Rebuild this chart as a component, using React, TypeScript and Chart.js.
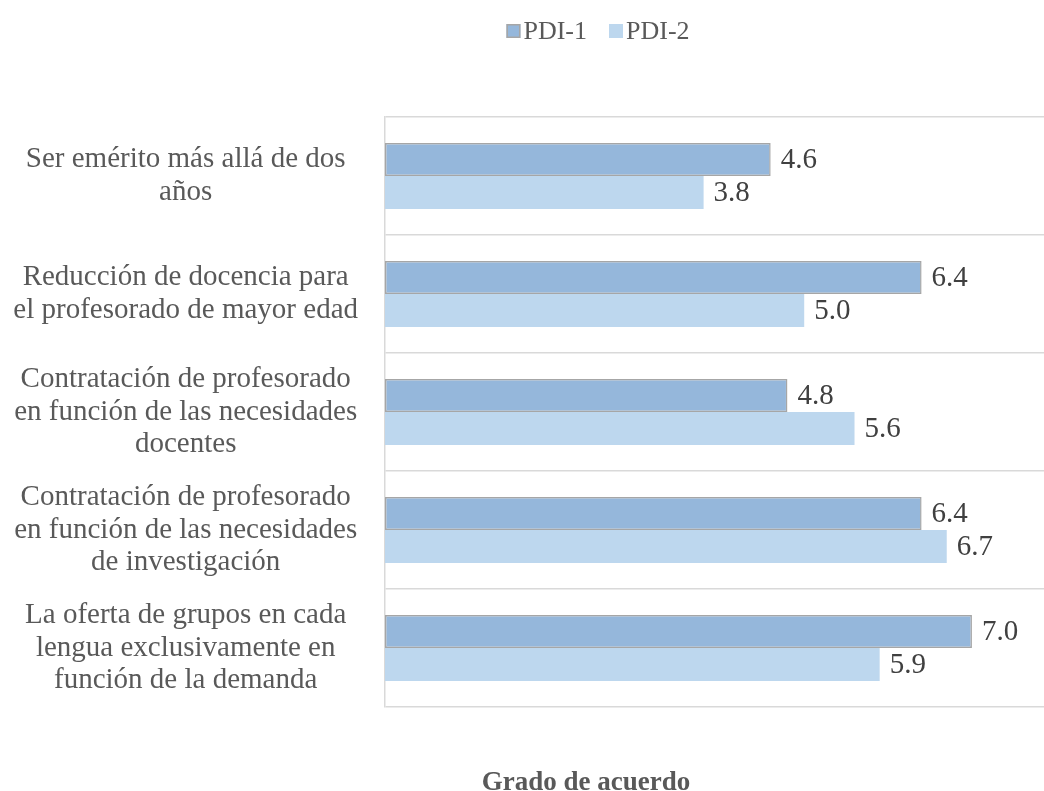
import React, { useEffect, useRef } from "react";
import { Chart, registerables } from "chart.js";

Chart.register(...registerables);

const categories: string[][] = [
  ["Ser emérito más allá de dos", "años"],
  ["Reducción de docencia para", "el profesorado de mayor edad"],
  ["Contratación de profesorado", "en función de las necesidades", "docentes"],
  ["Contratación de profesorado", "en función de las necesidades", "de investigación"],
  ["La oferta de grupos en cada", "lengua exclusivamente en", "función de la demanda"],
];
const pdi1: number[] = [4.6, 6.4, 4.8, 6.4, 7.0];
const pdi2: number[] = [3.8, 5.0, 5.6, 6.7, 5.9];
const seriesNames: string[] = ["PDI-1", "PDI-2"];
const axisTitle = "Grado de acuerdo";

const FONT = "'Liberation Serif', 'Times New Roman', serif";

const valueLabels = {
  id: "valueLabels",
  afterDatasetsDraw(chart: any) {
    const ctx = chart.ctx;
    ctx.save();
    ctx.font = `29px ${FONT}`;
    ctx.fillStyle = "#404040";
    ctx.textAlign = "left";
    ctx.textBaseline = "middle";
    chart.data.datasets.forEach((ds: any, i: number) => {
      const meta = chart.getDatasetMeta(i);
      meta.data.forEach((el: any, j: number) => {
        const v = ds.data[j] as number;
        ctx.fillText(v.toFixed(1), el.x + 10, el.y + 1);
      });
    });
    ctx.restore();
  },
};

// Legend and bottom title drawn by hand to match the reference placement
const decorations = {
  id: "decorations",
  afterDraw(chart: any) {
    const ctx = chart.ctx;
    ctx.save();
    ctx.font = `26px ${FONT}`;
    ctx.textBaseline = "middle";
    ctx.textAlign = "left";
    const box = 14;
    const gap = 3;
    const itemGap = 22;
    const items = chart.data.datasets.map((ds: any) => ({
      text: ds.label as string,
      fill: ds.backgroundColor as string,
      stroke: (ds.borderWidth ? ds.borderColor : null) as string | null,
      w: box + gap + ctx.measureText(ds.label).width,
    }));
    const total = items.reduce((s: number, it: any) => s + it.w, 0) + itemGap * (items.length - 1);
    const cx = 598;
    const cy = 31;
    let x = cx - total / 2;
    items.forEach((it: any) => {
      ctx.fillStyle = it.fill;
      ctx.fillRect(x, cy - box / 2, box, box);
      if (it.stroke) {
        ctx.strokeStyle = it.stroke;
        ctx.lineWidth = 1.5;
        ctx.strokeRect(x + 0.75, cy - box / 2 + 0.75, box - 1.5, box - 1.5);
      }
      ctx.fillStyle = "#595959";
      ctx.fillText(it.text, x + box + gap, cy + 1);
      x += it.w + itemGap;
    });

    ctx.font = `bold 27px ${FONT}`;
    ctx.textAlign = "center";
    ctx.fillStyle = "#595959";
    ctx.fillText(axisTitle, 586, 783);
    ctx.restore();
  },
};

export default function App() {
  const ref = useRef<HTMLCanvasElement | null>(null);
  useEffect(() => {
    if (!ref.current) return;
    const chart = new Chart(ref.current, {
      type: "bar",
      data: {
        labels: categories,
        datasets: [
          {
            label: seriesNames[0],
            data: pdi1,
            backgroundColor: "#95b7db",
            borderColor: "#a6a6a6",
            borderWidth: 1.5,
            borderSkipped: false,
            categoryPercentage: 0.56,
            barPercentage: 1.0,
          },
          {
            label: seriesNames[1],
            data: pdi2,
            backgroundColor: "#bdd7ee",
            borderWidth: 0,
            categoryPercentage: 0.56,
            barPercentage: 1.0,
          },
        ],
      },
      options: {
        indexAxis: "y",
        animation: false,
        responsive: false,
        maintainAspectRatio: false,
        layout: { padding: { top: 117, left: 13, right: 0, bottom: 84 } },
        scales: {
          x: {
            display: false,
            min: 0,
            max: 7.86,
          },
          y: {
            offset: true,
            afterFit: (scale: any) => {
              scale.width = 372;
            },
            grid: {
              offset: true,
              color: "#d9d9d9",
              lineWidth: 1.5,
              drawTicks: false,
            },
            border: { display: true, color: "#d9d9d9", width: 1.5 },
            ticks: {
              color: "#595959",
              font: { family: FONT, size: 29, lineHeight: 1.13 },
              crossAlign: "center",
              padding: 27,
            },
          },
        },
        plugins: {
          legend: { display: false },
          title: { display: false },
          tooltip: { enabled: false },
        },
      },
      plugins: [valueLabels, decorations],
    });
    return () => chart.destroy();
  }, []);
  return (
    <div style={{ position: "fixed", left: 0, top: 0, width: 1044, height: 791, background: "#fff" }}>
      <canvas ref={ref} width={1044} height={791} style={{ display: "block" }} />
    </div>
  );
}
